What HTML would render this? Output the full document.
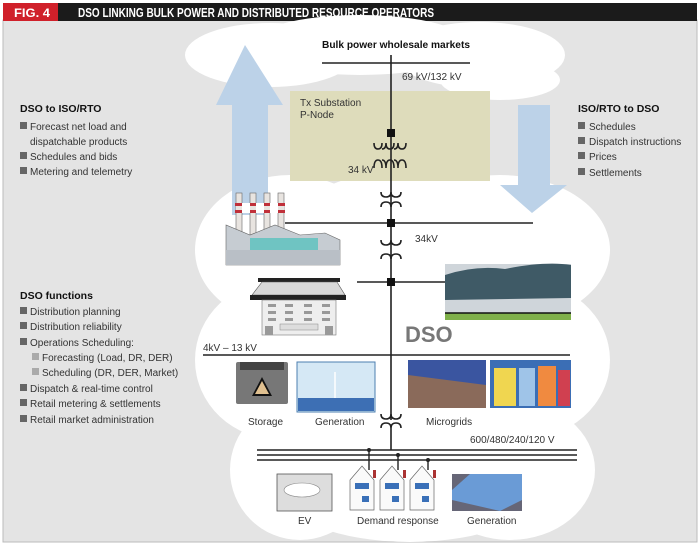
<!DOCTYPE html>
<html><head><meta charset="utf-8"><style>
body{margin:0;background:#fff}
svg{display:block;font-family:"Liberation Sans Narrow","Liberation Sans",sans-serif}
.t{font-size:10px;fill:#333}
.h{font-size:10.5px;fill:#111;font-weight:bold}
.ln{stroke:#222;stroke-width:1.6;fill:none}
</style></head><body>
<svg width="700" height="545" viewBox="0 0 700 545" xmlns="http://www.w3.org/2000/svg">
<rect x="0" y="0" width="700" height="545" fill="#fff"/>
<rect x="3" y="20" width="694" height="522" fill="#e4e4e4" stroke="#bbb"/>
<rect x="3" y="3" width="694" height="18" fill="#1b1b1b"/>
<rect x="3" y="3" width="55" height="18" fill="#d0202a"/>
<text x="14" y="17" fill="#fff" font-size="12" font-weight="bold" textLength="36" lengthAdjust="spacingAndGlyphs">FIG. 4</text>
<text x="78" y="17" fill="#fff" font-size="12.5" font-weight="bold" textLength="356" lengthAdjust="spacingAndGlyphs">DSO LINKING BULK POWER AND DISTRIBUTED RESOURCE OPERATORS</text>
<!-- clouds -->
<g fill="#fff">
<ellipse cx="270" cy="55" rx="85" ry="32"/>
<ellipse cx="360" cy="45" rx="110" ry="30"/>
<ellipse cx="480" cy="55" rx="85" ry="33"/>
<ellipse cx="500" cy="80" rx="60" ry="20"/>
<ellipse cx="290" cy="250" rx="95" ry="75"/>
<ellipse cx="500" cy="250" rx="110" ry="75"/>
<ellipse cx="410" cy="230" rx="120" ry="60"/>
<ellipse cx="280" cy="360" rx="85" ry="80"/>
<ellipse cx="520" cy="360" rx="90" ry="80"/>
<ellipse cx="400" cy="380" rx="170" ry="110"/>
<ellipse cx="300" cy="470" rx="70" ry="70"/>
<ellipse cx="510" cy="470" rx="85" ry="70"/>
<ellipse cx="410" cy="490" rx="130" ry="52"/>
</g>
<!-- arrows -->
<polygon points="245,45 283,105 268,105 268,215 232,215 232,105 216,105" fill="#bcd2e8"/>
<polygon points="518,105 550,105 550,185 567,185 532,213 500,185 518,185" fill="#bcd2e8"/>
<!-- substation -->
<rect x="290" y="91" width="200" height="90" fill="#dedcbb"/>
<text class="t" x="300" y="106">Tx Substation</text>
<text class="t" x="300" y="118">P-Node</text>
<text class="h" x="322" y="48" font-size="11" textLength="148" lengthAdjust="spacingAndGlyphs">Bulk power wholesale markets</text>
<line class="ln" x1="322" y1="63" x2="470" y2="63"/>
<text class="t" x="402" y="80">69 kV/132 kV</text>
<line class="ln" x1="391" y1="55" x2="391" y2="420"/>
<rect x="387" y="129" width="8" height="8" fill="#111"/>
<g class="ln" stroke-width="1.2">
<path d="M374,143 q0,6 4,6 q4,0 4,-6 M382,149 q4,0 4,-6 M386,143 q0,6 4,6 q4,0 4,-6 M394,149 q4,0 4,-6 M398,143 q0,6 4,6 q4,0 4,-6"/>
<path d="M374,168 q0,-8 4,-8 q4,0 4,8 M382,160 q4,0 4,8 M386,168 q0,-8 4,-8 q4,0 4,8 M394,160 q4,0 4,8 M398,168 q0,-8 4,-8 q4,0 4,8"/>
</g>
<text class="t" x="348" y="173">34 kV</text>
<g class="ln" stroke-width="1.2">
<path d="M381,192 q0,5 5,5 q5,0 5,-5 q0,5 5,5 q5,0 5,-5"/>
<path d="M381,207 q0,-5 5,-5 q5,0 5,5 q0,-5 5,-5 q5,0 5,5"/>
<path d="M381,240 q0,5 5,5 q5,0 5,-5 q0,5 5,5 q5,0 5,-5"/>
<path d="M381,259 q0,-5 5,-5 q5,0 5,5 q0,-5 5,-5 q5,0 5,5"/>
<path d="M381,414 q0,5 5,5 q5,0 5,-5 q0,5 5,5 q5,0 5,-5"/>
<path d="M381,428 q0,-5 5,-5 q5,0 5,5 q0,-5 5,-5 q5,0 5,5"/>
</g>
<line class="ln" x1="285" y1="223" x2="533" y2="223"/>
<rect x="387" y="219" width="8" height="8" fill="#111"/>
<text class="t" x="415" y="242">34kV</text>
<line class="ln" x1="357" y1="282" x2="445" y2="282"/>
<rect x="387" y="278" width="8" height="8" fill="#111"/>
<line class="ln" x1="203" y1="355" x2="570" y2="355"/>
<text class="t" x="203" y="351">4kV – 13 kV</text>
<text x="405" y="342" font-size="22" font-weight="bold" fill="#777">DSO</text>
<line class="ln" x1="391" y1="428" x2="391" y2="450"/>
<line class="ln" x1="257" y1="450" x2="577" y2="450"/>
<line class="ln" x1="257" y1="455" x2="577" y2="455"/>
<line class="ln" x1="257" y1="460" x2="577" y2="460"/>
<text class="t" x="470" y="443">600/480/240/120 V</text>
<!-- factory -->
<g>
<rect x="236" y="193" width="6" height="42" fill="#e8e4e0" stroke="#666" stroke-width=".6"/>
<rect x="250" y="193" width="6" height="42" fill="#e8e4e0" stroke="#666" stroke-width=".6"/>
<rect x="264" y="193" width="6" height="42" fill="#e8e4e0" stroke="#666" stroke-width=".6"/>
<rect x="278" y="193" width="6" height="42" fill="#e8e4e0" stroke="#666" stroke-width=".6"/>
<rect x="235" y="203" width="50" height="3" fill="#c0303a"/><rect x="235" y="210" width="50" height="3" fill="#c0303a"/>
<rect x="236" y="206" width="6" height="4" fill="#e8e4e0"/><rect x="250" y="206" width="6" height="4" fill="#e8e4e0"/><rect x="264" y="206" width="6" height="4" fill="#e8e4e0"/><rect x="278" y="206" width="6" height="4" fill="#e8e4e0"/>
<rect x="242" y="203" width="8" height="10" fill="#fff"/><rect x="256" y="203" width="8" height="10" fill="#fff"/><rect x="270" y="203" width="8" height="10" fill="#fff"/>
<polygon points="226,265 226,225 250,235 275,225 300,235 325,233 340,240 340,265" fill="#c6ccd2" stroke="#666" stroke-width=".6"/>
<rect x="250" y="238" width="68" height="12" fill="#6fc4c2"/>
<rect x="226" y="250" width="114" height="15" fill="#b9bfc6"/>
</g>
<!-- building -->
<rect x="258" y="278" width="82" height="4" fill="#222"/>
<polygon points="252,295 262,282 337,282 345,295" fill="#d8d8d8" stroke="#555" stroke-width=".6"/>
<rect x="250" y="295" width="96" height="5" fill="#222"/>
<rect x="262" y="300" width="74" height="35" fill="#eee" stroke="#777" stroke-width=".6"/>
<g fill="#999"><rect x="268" y="304" width="8" height="3"/><rect x="285" y="304" width="8" height="3"/><rect x="304" y="304" width="8" height="3"/><rect x="322" y="304" width="8" height="3"/>
<rect x="268" y="311" width="8" height="3"/><rect x="285" y="311" width="8" height="3"/><rect x="304" y="311" width="8" height="3"/><rect x="322" y="311" width="8" height="3"/>
<rect x="268" y="318" width="8" height="3"/><rect x="285" y="318" width="8" height="3"/><rect x="304" y="318" width="8" height="3"/><rect x="322" y="318" width="8" height="3"/>
<rect x="265" y="326" width="8" height="9"/><rect x="325" y="326" width="8" height="9"/></g>
<rect x="280" y="324" width="38" height="6" fill="#ddd" stroke="#888" stroke-width=".5"/>
<!-- farm -->
<rect x="445" y="264" width="126" height="56" fill="#cfd5da"/>
<path d="M445,275 q30,-10 60,-6 q40,-8 66,-4 L571,298 L445,300 Z" fill="#3f5a66"/>
<rect x="445" y="313" width="126" height="7" fill="#7fb04a"/>
<line x1="445" y1="313" x2="571" y2="313" stroke="#111" stroke-width="1.4"/>
<!-- row 1 images -->
<rect x="236" y="362" width="52" height="42" fill="#777" rx="2"/>
<rect x="240" y="362" width="44" height="8" fill="#444"/>
<polygon points="262,377 252,396 272,396" fill="#111"/><polygon points="262,381 255,394 269,394" fill="#e0c090"/>
<rect x="297" y="362" width="78" height="50" fill="#d5e8f5" stroke="#4d7fb0" stroke-width="1"/>
<rect x="298" y="398" width="76" height="13" fill="#3d6fb4"/>
<line x1="335" y1="372" x2="335" y2="398" stroke="#fff" stroke-width="1.5"/>
<rect x="408" y="360" width="78" height="48" fill="#8a6a5a"/>
<polygon points="408,360 486,360 486,385 408,375" fill="#3a55a0"/>
<rect x="490" y="360" width="81" height="48" fill="#3b6eb5"/>
<rect x="494" y="368" width="22" height="38" fill="#f0d650"/><rect x="519" y="368" width="16" height="38" fill="#9fc4e8"/><rect x="538" y="366" width="18" height="40" fill="#f08a40"/><rect x="558" y="370" width="12" height="36" fill="#d04050"/>
<text class="t" x="248" y="425">Storage</text>
<text class="t" x="315" y="425">Generation</text>
<text class="t" x="426" y="425">Microgrids</text>
<!-- bottom -->
<rect x="277" y="474" width="55" height="37" fill="#ddd" stroke="#555" stroke-width=".8"/>
<ellipse cx="302" cy="490" rx="18" ry="7" fill="#fff" stroke="#888" stroke-width=".6"/>
<line x1="369" y1="450" x2="369" y2="470" stroke="#222" stroke-width="1.4"/><circle cx="369" cy="450" r="2" fill="#222"/>
<line x1="398" y1="455" x2="398" y2="470" stroke="#222" stroke-width="1.4"/><circle cx="398" cy="455" r="2" fill="#222"/>
<line x1="428" y1="460" x2="428" y2="470" stroke="#222" stroke-width="1.4"/><circle cx="428" cy="460" r="2" fill="#222"/>
<g stroke="#666" stroke-width=".7" fill="#fafafa">
<polygon points="350,480 362,466 374,480 374,510 350,510"/>
<polygon points="380,480 392,466 404,480 404,510 380,510"/>
<polygon points="410,480 422,466 434,480 434,510 410,510"/>
</g>
<g fill="#3a70b8"><rect x="355" y="483" width="14" height="6"/><rect x="385" y="483" width="14" height="6"/><rect x="415" y="483" width="14" height="6"/>
<rect x="362" y="496" width="7" height="6"/><rect x="392" y="496" width="7" height="6"/><rect x="422" y="496" width="7" height="6"/></g>
<g fill="#a33"><rect x="373" y="470" width="3" height="8"/><rect x="403" y="470" width="3" height="8"/><rect x="433" y="470" width="3" height="8"/></g>
<rect x="452" y="474" width="70" height="37" fill="#667" />
<polygon points="452,490 470,474 522,474 522,500 500,511 452,500" fill="#6a9bd6"/>
<text class="t" x="298" y="524">EV</text>
<text class="t" x="357" y="524">Demand response</text>
<text class="t" x="467" y="524">Generation</text>
<!-- left text -->
<text class="h" x="20" y="112">DSO to ISO/RTO</text>
<g class="t"><text x="30" y="130">Forecast net load and</text><text x="30" y="145">dispatchable products</text><text x="30" y="160">Schedules and bids</text><text x="30" y="175">Metering and telemetry</text></g>
<g fill="#666"><rect x="20" y="122" width="7" height="7"/><rect x="20" y="152" width="7" height="7"/><rect x="20" y="167" width="7" height="7"/></g>
<text class="h" x="20" y="299">DSO functions</text>
<g class="t"><text x="30" y="315">Distribution planning</text><text x="30" y="330">Distribution reliability</text><text x="30" y="346">Operations Scheduling:</text>
<text x="42" y="361">Forecasting (Load, DR, DER)</text><text x="42" y="376">Scheduling (DR, DER, Market)</text>
<text x="30" y="392">Dispatch &amp; real-time control</text><text x="30" y="407">Retail metering &amp; settlements</text><text x="30" y="423">Retail market administration</text></g>
<g fill="#666"><rect x="20" y="307" width="7" height="7"/><rect x="20" y="322" width="7" height="7"/><rect x="20" y="338" width="7" height="7"/><rect x="20" y="384" width="7" height="7"/><rect x="20" y="399" width="7" height="7"/><rect x="20" y="415" width="7" height="7"/></g>
<g fill="#aaa"><rect x="32" y="353" width="7" height="7"/><rect x="32" y="368" width="7" height="7"/></g>
<!-- right text -->
<text class="h" x="578" y="112">ISO/RTO to DSO</text>
<g class="t"><text x="589" y="130">Schedules</text><text x="589" y="145">Dispatch instructions</text><text x="589" y="160">Prices</text><text x="589" y="176">Settlements</text></g>
<g fill="#666"><rect x="578" y="122" width="7" height="7"/><rect x="578" y="137" width="7" height="7"/><rect x="578" y="152" width="7" height="7"/><rect x="578" y="168" width="7" height="7"/></g>
</svg>
</body></html>
